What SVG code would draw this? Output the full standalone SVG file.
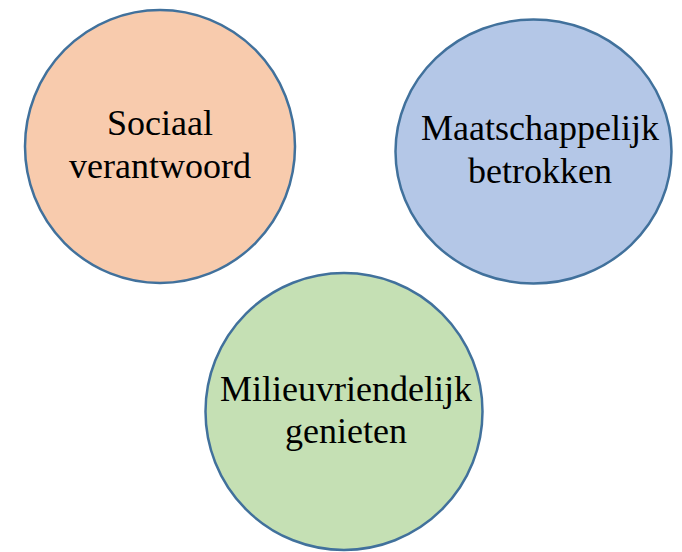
<svg xmlns="http://www.w3.org/2000/svg" width="682" height="552" viewBox="0 0 682 552">
<style>
.c{stroke:#41719c;stroke-width:2.5}
.t{font-family:"Liberation Serif","Times New Roman",serif;font-size:36px;fill:#000;text-anchor:middle}
</style>
<rect width="682" height="552" fill="#fff"/>
<g id="connectors"></g>
<g id="node-sociaal">
<ellipse class="c" cx="160" cy="146.5" rx="135" ry="136.5" fill="#f8cbad"/>
<text class="t" x="160" y="135">Sociaal</text>
<text class="t" x="160" y="178">verantwoord</text>
</g>
<g id="node-maatschappelijk">
<ellipse class="c" cx="533.5" cy="151.5" rx="138" ry="132" fill="#b4c7e7"/>
<text class="t" x="540" y="140">Maatschappelijk</text>
<text class="t" x="540" y="183">betrokken</text>
</g>
<g id="node-milieu">
<ellipse class="c" cx="344" cy="411.5" rx="138.5" ry="138.5" fill="#c5e0b4"/>
<text class="t" x="346" y="401" textLength="252" lengthAdjust="spacingAndGlyphs">Milieuvriendelijk</text>
<text class="t" x="346" y="443">genieten</text>
</g>
</svg>
